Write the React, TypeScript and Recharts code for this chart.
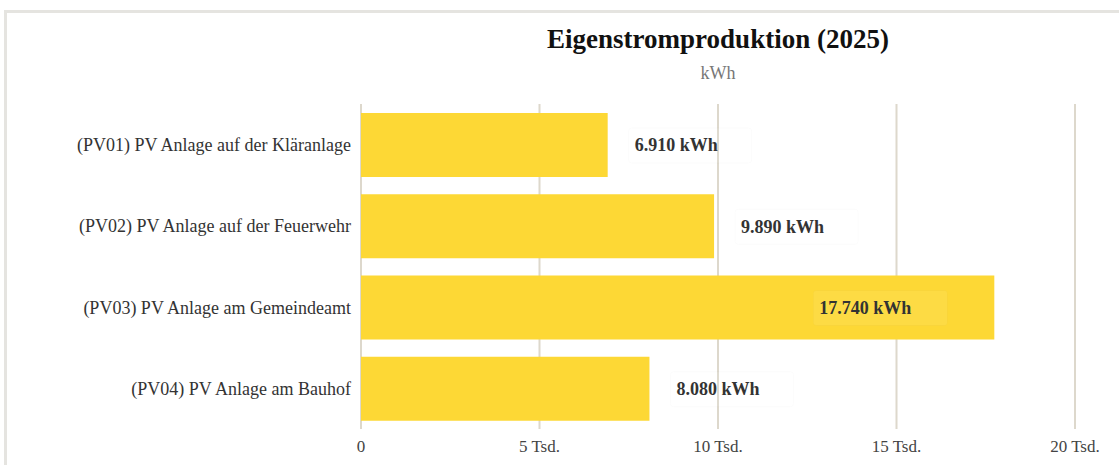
import { Bar, BarChart, CartesianGrid, LabelList, XAxis, YAxis } from "recharts";

const anlagen = [
    "(PV01) PV Anlage auf der Kläranlage",
    "(PV02) PV Anlage auf der Feuerwehr",
    "(PV03) PV Anlage am Gemeindeamt",
    "(PV04) PV Anlage am Bauhof",
];
const produktion = [6910, 9890, 17740, 8080];
const xTicks = [0, 5000, 10000, 15000, 20000];

const data = anlagen.map((name, i) => ({ name, kwh: produktion[i] }));

const FONT = "'Liberation Serif', 'DejaVu Serif', serif";

const formatKwh = (v: number) => `${v.toLocaleString("de-DE")} kWh`;
const formatTick = (v: number) => (v === 0 ? "0" : `${v / 1000} Tsd.`);

function ValueLabel(props: any) {
    const { x, y, width, height, value } = props;
    const end = x + width;
    const inside = value > 15000;
    const tx = inside ? end - 175 : end + 27;
    const cy = y + height / 2;
    return (
        <g>
            <rect
                x={tx - 6}
                y={cy - 17}
                width={inside ? 134 : 123}
                height={35}
                rx={3}
                fill="#ffffff"
                fillOpacity={0.08}
                stroke="#000000"
                strokeOpacity={0.015}
            />
            <text
                x={tx}
                y={cy}
                dy="0.35em"
                fontFamily={FONT}
                fontSize={18}
                fontWeight="bold"
                fill="#333333"
            >
                {formatKwh(value)}
            </text>
        </g>
    );
}

export default function App() {
    return (
        <div style={{ position: "absolute", left: 0, top: 0, width: 1119, height: 465, overflow: "hidden", background: "#fff" }}>
            <div
                style={{
                    position: "absolute",
                    left: 4,
                    top: 10,
                    width: 1200,
                    height: 520,
                    border: "3px solid #e5e4e0",
                    boxSizing: "border-box",
                }}
            />
            <div
                style={{
                    position: "absolute",
                    left: 361,
                    width: 714,
                    top: 23,
                    textAlign: "center",
                    fontFamily: FONT,
                    fontWeight: "bold",
                    fontSize: 27,
                    lineHeight: "32px",
                    color: "#111",
                }}
            >
                Eigenstromproduktion (2025)
            </div>
            <div
                style={{
                    position: "absolute",
                    left: 361,
                    width: 714,
                    top: 62,
                    textAlign: "center",
                    fontFamily: FONT,
                    fontSize: 18,
                    lineHeight: "22px",
                    color: "#777",
                }}
            >
                kWh
            </div>
            <div style={{ position: "absolute", left: 0, top: 0 }}>
                <BarChart
                    width={1119}
                    height={465}
                    data={data}
                    layout="vertical"
                    margin={{ top: 104, right: 44, bottom: 6, left: 0 }}
                >
                    <CartesianGrid horizontal={false} stroke="#ddd8cc" strokeWidth={2} />
                    <XAxis
                        type="number"
                        domain={[0, 20000]}
                        ticks={xTicks}
                        tickFormatter={formatTick}
                        axisLine={false}
                        tickLine={false}
                        tickSize={0}
                        tickMargin={11}
                        height={30}
                        tick={{ fontFamily: FONT, fontSize: 17, fill: "#444" }}
                    />
                    <YAxis
                        type="category"
                        dataKey="name"
                        width={361}
                        axisLine={false}
                        tickLine={false}
                        tickSize={0}
                        tickMargin={10}
                        tick={{ fontFamily: FONT, fontSize: 18, fill: "#333" }}
                    />
                    <Bar dataKey="kwh" fill="#fdd835" barSize={64} isAnimationActive={false}>
                        <LabelList dataKey="kwh" content={<ValueLabel />} />
                    </Bar>
                </BarChart>
            </div>
        </div>
    );
}
